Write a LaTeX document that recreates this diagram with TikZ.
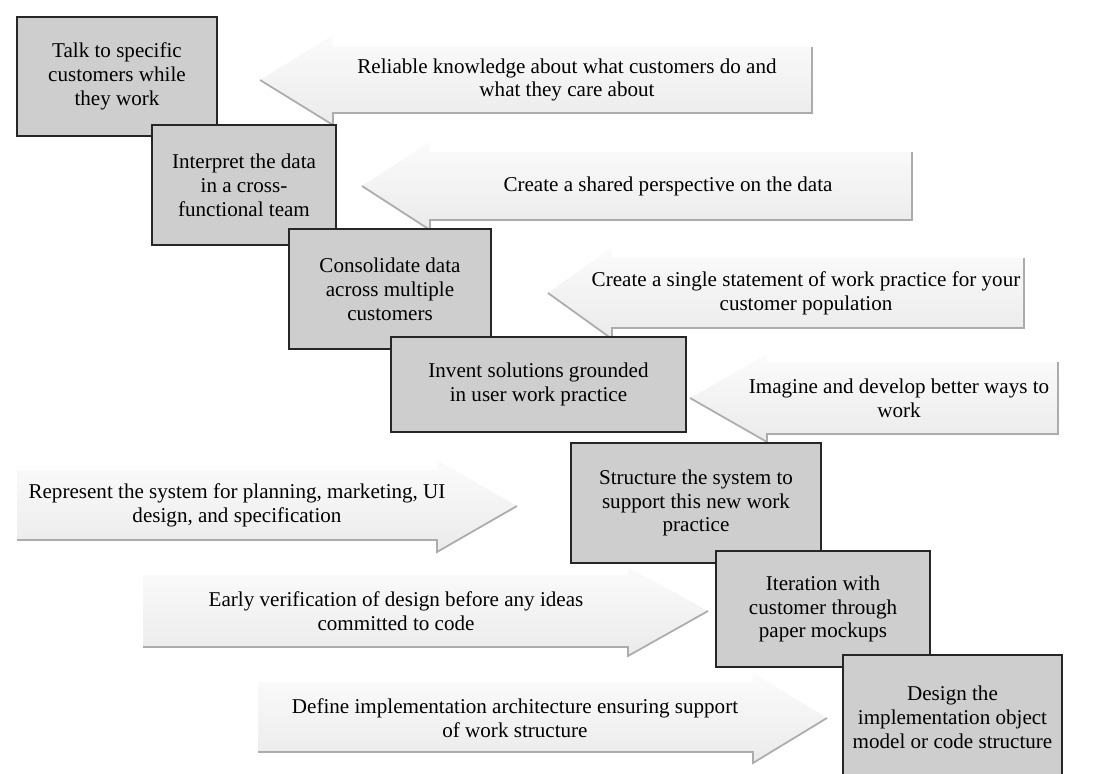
\documentclass[tikz,border=0pt]{standalone}
\usepackage{fontspec}
\setmainfont{Liberation Serif}
\definecolor{boxgray}{RGB}{206,206,206}
\tikzset{
  stage/.style={draw=black!85, line width=0.8pt, fill=boxgray, align=center, inner sep=0pt, font=\fontsize{12}{13.6}\selectfont},
  arrowbody/.style={top color=gray!3, bottom color=gray!16},
  arrowedge/.style={draw=gray!65, line width=1pt},
  arrowtext/.style={align=center, inner sep=0pt, font=\fontsize{12}{13.6}\selectfont}
}

\begin{document}
\begin{tikzpicture}[x=0.02cm, y=-0.02cm]
    \useasboundingbox (0,0) rectangle (1109,774);
    \clip (0,0) rectangle (1109,774);

    % arrows pointing back
    \shade[arrowbody] (260,80) -- (333,35) -- (333,47) -- (812,47) -- (812,113) -- (333,113) -- (333,125) -- cycle;
    \draw[arrowedge] (260,80) -- (333,125) -- (333,113) -- (812,113) -- (812,47);
    \shade[arrowbody] (362,186) -- (430,142) -- (430,152) -- (912,152) -- (912,220) -- (430,220) -- (430,230) -- cycle;
    \draw[arrowedge] (362,186) -- (430,230) -- (430,220) -- (912,220) -- (912,152);
    \shade[arrowbody] (548,293) -- (612,247) -- (612,258) -- (1024,258) -- (1024,328) -- (612,328) -- (612,339) -- cycle;
    \draw[arrowedge] (548,293) -- (612,339) -- (612,328) -- (1024,328) -- (1024,258);
    \shade[arrowbody] (690,398) -- (767,354) -- (767,362) -- (1058,362) -- (1058,434) -- (767,434) -- (767,442) -- cycle;
    \draw[arrowedge] (690,398) -- (767,442) -- (767,434) -- (1058,434) -- (1058,362);

    % arrows pointing forward
    \shade[arrowbody] (17,470) -- (437,470) -- (437,460) -- (517,506) -- (437,552) -- (437,540) -- (17,540) -- cycle;
    \draw[arrowedge] (17,540) -- (437,540) -- (437,552) -- (517,506);
    \shade[arrowbody] (143,575) -- (628,575) -- (628,567) -- (708,611) -- (628,656) -- (628,647) -- (143,647) -- cycle;
    \draw[arrowedge] (143,647) -- (628,647) -- (628,656) -- (708,611);
    \shade[arrowbody] (258,682) -- (753,682) -- (753,673) -- (827,718) -- (753,763) -- (753,752) -- (258,752) -- cycle;
    \draw[arrowedge] (258,752) -- (753,752) -- (753,763) -- (827,718);

    \node[arrowtext] (know) at (567,80) {Reliable knowledge about what customers do and\\what they care about};
    \node[arrowtext] (share) at (668,186) {Create a shared perspective on the data};
    \node[arrowtext] (single) at (806,293) {Create a single statement of work practice for your\\customer population};
    \node[arrowtext] (imagine) at (899,398) {Imagine and develop better ways to\\work};
    \node[arrowtext] (represent) at (237,505) {Represent the system for planning, marketing, UI\\design, and specification};
    \node[arrowtext] (verify) at (396,611) {Early verification of design before any ideas\\committed to code};
    \node[arrowtext] (define) at (515,718) {Define implementation architecture ensuring support\\of work structure};

    % stages
    \node[stage, minimum width=4cm, minimum height=2.38cm] (talk) at (117,76.5) {Talk to specific\\customers while\\they work};
    \node[stage, minimum width=3.68cm, minimum height=2.4cm] (interpret) at (244,185) {Interpret the data\\in a cross-\\functional team};
    \node[stage, minimum width=4.04cm, minimum height=2.4cm] (consolidate) at (390,289) {Consolidate data\\across multiple\\customers};
    \node[stage, minimum width=5.9cm, minimum height=1.9cm] (invent) at (538.5,384.5) {Invent solutions grounded\\in user work practice};
    \node[stage, minimum width=5cm, minimum height=2.4cm] (structure) at (696,503) {Structure the system to\\support this new work\\practice};
    \node[stage, minimum width=4.28cm, minimum height=2.32cm] (iterate) at (823,609) {Iteration with\\customer through\\paper mockups};
    \node[stage, minimum width=4.38cm, minimum height=2.48cm] (design) at (952.5,717) {Design the\\implementation object\\model or code structure};
\end{tikzpicture}
\end{document}
